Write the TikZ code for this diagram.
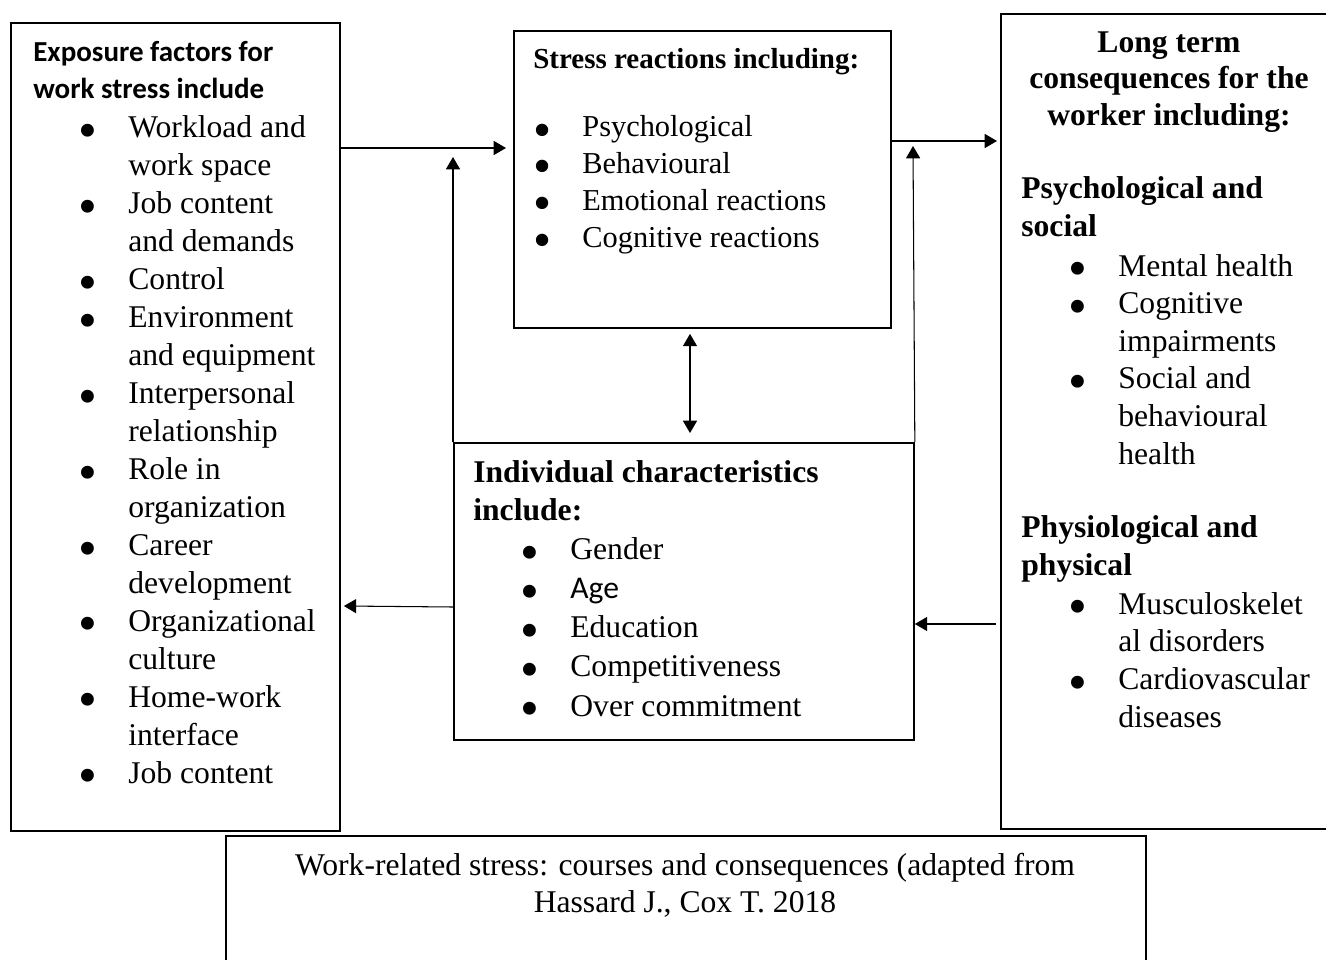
\documentclass[tikz,border=0pt]{standalone}
\usepackage{fontspec}
\usepackage{graphicx}
\setmainfont{Liberation Serif}
\newfontfamily\carlito{Carlito}
\usetikzlibrary{arrows.meta, positioning, calc}
\newcommand{\itm}{\llap{\raisebox{-0.34em}{\scalebox{1.7}{\textbullet}}\hspace{0.62cm}}}

\begin{document}
\begin{tikzpicture}[x=0.02cm, y=-0.02cm, >={Triangle[length=7pt,width=8pt]}]
    \tikzstyle{box}=[draw, line width=1.1pt, inner sep=0pt, anchor=north west]
    \tikzstyle{txt}=[inner sep=0pt, anchor=base west, align=left, font=\fontsize{18}{21.6}\selectfont]
    \tikzstyle{head}=[txt, font=\fontsize{18}{21.3}\selectfont\bfseries]
    \tikzstyle{arr}=[->, line width=0.6pt]
    \useasboundingbox (0,0) rectangle (1326,960);

    % boxes
    \node[box, minimum width=6.58cm, minimum height=16.16cm] (expo) at (10,22) {};
    \node[box, minimum width=7.54cm, minimum height=5.94cm] (stress) at (513,30) {};
    \node[box, minimum width=6.6cm, minimum height=16.3cm] (cons) at (1000,13) {};
    \node[box, minimum width=9.2cm, minimum height=5.94cm] (indiv) at (453,442) {};
    \node[box, minimum width=18.4cm, minimum height=2.8cm] (capbox) at (225,835) {};

    % exposure factors (text nodes sit on the baseline of their last line)
    \node[txt, font=\fontsize{16.5}{20.5}\selectfont\carlito\bfseries] (expohead) at (33,98)
        {Exposure factors for\\work stress include};
    \node[txt] (expolist) at (128,783)
        {\itm Workload and\\work space\\\itm Job content\\and demands\\\itm Control\\
         \itm Environment\\and equipment\\\itm Interpersonal\\relationship\\\itm Role in\\
         organization\\\itm Career\\development\\\itm Organizational\\culture\\
         \itm Home-work\\interface\\\itm Job content};

    % stress reactions
    \node[txt, font=\fontsize{16.5}{20}\selectfont\bfseries] (stresshead) at (533,69)
        {Stress reactions including:};
    \node[txt, font=\fontsize{17.3}{20.9}\selectfont] (stresslist) at (582,247)
        {\itm Psychological\\\itm Behavioural\\\itm Emotional reactions\\\itm Cognitive reactions};

    % long term consequences
    \node[head, anchor=base, align=center, font=\fontsize{18}{20.5}\selectfont\bfseries] (conshead) at (1169,125)
        {Long term\\consequences for the\\worker including:};
    \node[head] (psyhead) at (1021,236) {Psychological and\\social};
    \node[txt, font=\fontsize{18}{21.4}\selectfont] (psylist) at (1118,464)
        {\itm Mental health\\\itm Cognitive\\impairments\\\itm Social and\\behavioural\\health};
    \node[head] (phyhead) at (1021,575) {Physiological and\\physical};
    \node[txt, font=\fontsize{18}{21.4}\selectfont] (phylist) at (1118,727)
        {\itm Musculoskelet\\al disorders\\\itm Cardiovascular\\diseases};

    % individual characteristics
    \node[head] (indivhead) at (473,520) {Individual characteristics\\include:};
    \node[txt, font=\fontsize{18}{22.3}\selectfont] (indivlist) at (570,716)
        {\itm Gender\\\itm {\carlito Age}\\\itm Education\\\itm Competitiveness\\\itm Over commitment};

    % caption
    \node[txt, anchor=base, align=center, font=\fontsize{18}{21}\selectfont] (caption) at (685,912)
        {Work-related stress: courses and consequences (adapted from\\Hassard J., Cox T. 2018};

    % connectors
    \coordinate (up1) at (453,157);
    \coordinate (up2) at (913,146);
    \draw[arr] ($(expo.north east)+(0,126)$) -- ($(stress.north west)+(-7,118)$);
    \draw[arr] (indiv.north west) -- (up1);
    \draw[arr] ($(stress.north east)+(0,111)$) -- ($(cons.north west)+(-3,128)$);
    \draw[arr] (indiv.north east) -- (up2);
    \draw[arr, <->] ($(stress.south west)+(177,5)$) -- ($(indiv.north west)+(237,-9)$);
    \draw[arr] ($(indiv.north west)+(0,165)$) -- ($(expo.north east)+(3,584)$);
    \draw[arr] ($(cons.north west)+(-4,611)$) -- ($(indiv.north east)+(0,182)$);
\end{tikzpicture}
\end{document}
